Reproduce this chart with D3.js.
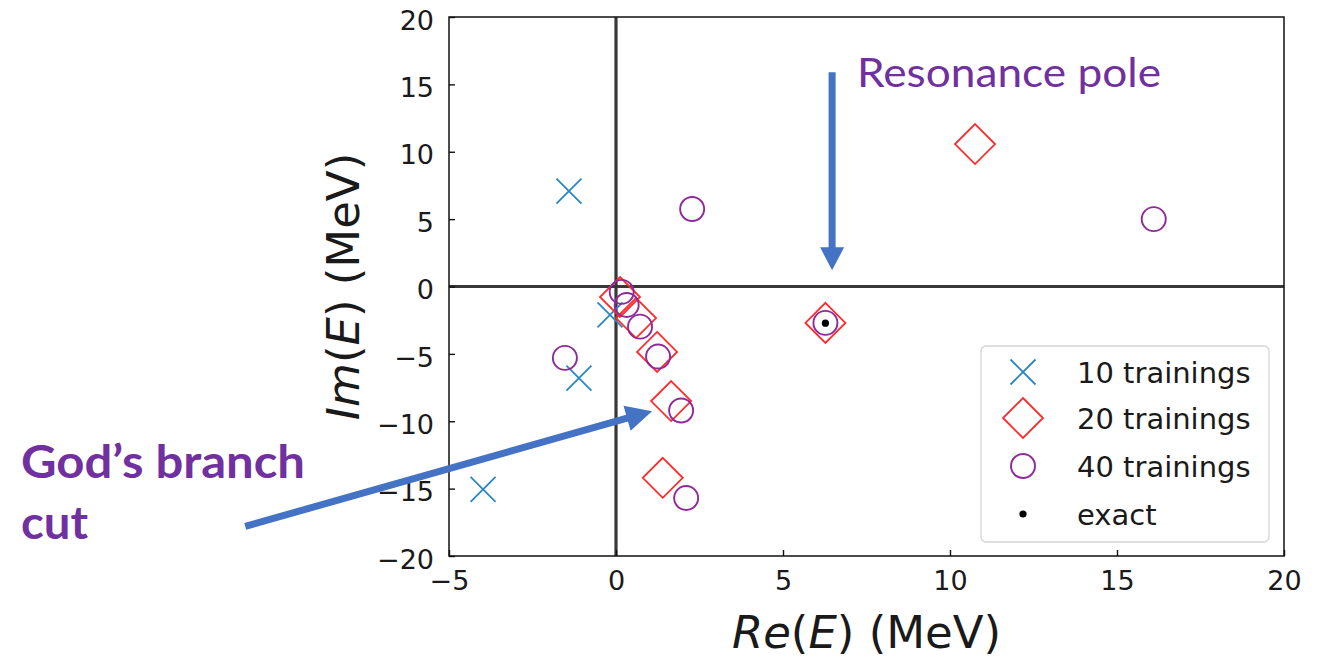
<!DOCTYPE html>
<html>
<head>
<meta charset="utf-8">
<script src="https://cdn.jsdelivr.net/npm/d3@7"></script>
<style>
  html, body { margin: 0; padding: 0; background: #fff; }
  svg { display: block; }
</style>
</head>
<body>
<svg id="chart" width="1319" height="658"></svg>
<script>
// ---- data ----
const re10 = [-1.41, -0.18, -1.11, -3.98];
const im10 = [7.08, -2.1, -6.8, -15.05];
const re20 = [0.12, 0.6, 1.23, 1.65, 1.4, 6.27, 10.75];
const im20 = [-0.78, -2.34, -4.86, -8.5, -14.2, -2.7, 10.57];
const re40 = [0.17, 0.32, 0.72, 1.26, 1.95, 2.1, -1.53, 2.28, 16.1, 6.27];
const im40 = [-0.4, -1.37, -2.98, -5.2, -9.2, -15.7, -5.3, 5.75, 5.0, -2.7];
const reExact = [6.27];
const imExact = [-2.72];
const xTicks = [-5, 0, 5, 10, 15, 20];
const yTicks = [-20, -15, -10, -5, 0, 5, 10, 15, 20];
const legendLabels = ["10 trainings", "20 trainings", "40 trainings", "exact"];
// annotation arrows in data coordinates [x1, y1, x2(tip), y2(tip)]
const arrowResonance = [6.47, 15.9, 6.47, 1.2];
const arrowBranch = [-11.1, -17.8, 1.08, -9.25];

const svg = d3.select("#chart");
const x = d3.scaleLinear().domain([-5, 20]).range([449, 1284]);
const y = d3.scaleLinear().domain([-20, 20]).range([556, 17]);

const cBlue = "#2a86c4", cRed = "#ff2a2a", cPurple = "#8e2a99";

// zero lines
svg.append("line").attr("x1", x(0)).attr("x2", x(0)).attr("y1", y(20)).attr("y2", y(-20))
  .attr("stroke", "#383838").attr("stroke-width", 3.2);
svg.append("line").attr("x1", x(-5)).attr("x2", x(20)).attr("y1", y(0)).attr("y2", y(0))
  .attr("stroke", "#383838").attr("stroke-width", 3.2);

// axes
const fmt = d => d < 0 ? "\u2212" + Math.abs(d) : d;
const gx = svg.append("g").attr("transform", `translate(0,${y(-20)})`)
  .call(d3.axisBottom(x).tickValues(xTicks).tickSize(-6).tickPadding(15).tickFormat(fmt));
const gy = svg.append("g").attr("transform", `translate(${x(-5)},0)`)
  .call(d3.axisLeft(y).tickValues(yTicks).tickSize(-6).tickPadding(15).tickFormat(fmt));
[gx, gy].forEach(g => {
  g.select(".domain").remove();
  g.selectAll(".tick line").attr("stroke", "#111").attr("stroke-width", 1.4);
  g.selectAll(".tick text").attr("fill", "#1a1a1a").style("font-family", "DejaVu Sans").style("font-size", "27px");
});
gy.selectAll(".tick text").attr("dy", "0.45em");

// frame
svg.append("rect").attr("x", x(-5)).attr("y", y(20)).attr("width", x(20) - x(-5)).attr("height", y(-20) - y(20))
  .attr("fill", "none").attr("stroke", "#111").attr("stroke-width", 1.5);

// marker helpers
function xMark(g, cx, cy, col, s) {
  g.append("path").attr("d", `M${cx - s},${cy - s}L${cx + s},${cy + s}M${cx - s},${cy + s}L${cx + s},${cy - s}`)
    .attr("stroke", col).attr("stroke-width", 1.8).attr("fill", "none");
}
function dMark(g, cx, cy, col, s) {
  g.append("path").attr("d", `M${cx},${cy - s}L${cx + s},${cy}L${cx},${cy + s}L${cx - s},${cy}Z`)
    .attr("stroke", col).attr("stroke-width", 1.8).attr("fill", "none");
}
function oMark(g, cx, cy, col, r) {
  g.append("circle").attr("cx", cx).attr("cy", cy).attr("r", r)
    .attr("stroke", col).attr("stroke-width", 1.9).attr("fill", "none");
}
function dot(g, cx, cy) {
  g.append("circle").attr("cx", cx).attr("cy", cy).attr("r", 3.6).attr("fill", "#000");
}

const pts = svg.append("g");
re10.forEach((v, i) => xMark(pts, x(v), y(im10[i]), cBlue, 12.5));
re20.forEach((v, i) => dMark(pts, x(v), y(im20[i]), cRed, 20));
re40.forEach((v, i) => oMark(pts, x(v), y(im40[i]), cPurple, 12));
reExact.forEach((v, i) => dot(pts, x(v), y(imExact[i])));

// legend
const lg = svg.append("g");
lg.append("rect").attr("x", 981).attr("y", 346).attr("width", 288).attr("height", 196).attr("rx", 5)
  .attr("fill", "#fff").attr("fill-opacity", 0.85).attr("stroke", "#d4d4d4").attr("stroke-width", 1.3);
const rowsY = [372, 418, 466, 514];
xMark(lg, 1023, rowsY[0], cBlue, 12.5);
dMark(lg, 1023, rowsY[1], cRed, 20);
oMark(lg, 1023, rowsY[2], cPurple, 12);
dot(lg, 1023, rowsY[3]);
legendLabels.forEach((t, i) => {
  lg.append("text").attr("x", 1077).attr("y", rowsY[i] + 11)
    .style("font-family", "DejaVu Sans").style("font-size", "29px").attr("fill", "#1a1a1a").text(t);
});

// axis titles
const xt = svg.append("text").attr("x", x(7.5)).attr("y", 648)
  .attr("text-anchor", "middle").style("font-family", "DejaVu Sans").style("font-size", "45px").attr("fill", "#1a1a1a");
xt.append("tspan").style("font-style", "italic").text("Re");
xt.append("tspan").text("(");
xt.append("tspan").style("font-style", "italic").text("E");
xt.append("tspan").text(") (MeV)");
const yt = svg.append("text").attr("transform", `translate(359,${y(0)}) rotate(-90)`)
  .attr("text-anchor", "middle").style("font-family", "DejaVu Sans").style("font-size", "45px").attr("fill", "#1a1a1a");
yt.append("tspan").style("font-style", "italic").text("Im");
yt.append("tspan").text("(");
yt.append("tspan").style("font-style", "italic").text("E");
yt.append("tspan").text(") (MeV)");

// annotation arrows
function arrow(a, shaftW, headL, headW, col) {
  const x1 = x(a[0]), y1 = y(a[1]), x2 = x(a[2]), y2 = y(a[3]);
  const dx = x2 - x1, dy = y2 - y1, L = Math.hypot(dx, dy);
  const ux = dx / L, uy = dy / L, nx = -uy, ny = ux;
  const bx = x2 - ux * headL, by = y2 - uy * headL;
  const p = [
    [x1 + nx * shaftW / 2, y1 + ny * shaftW / 2],
    [bx + nx * shaftW / 2, by + ny * shaftW / 2],
    [bx + nx * headW, by + ny * headW],
    [x2, y2],
    [bx - nx * headW, by - ny * headW],
    [bx - nx * shaftW / 2, by - ny * shaftW / 2],
    [x1 - nx * shaftW / 2, y1 - ny * shaftW / 2]
  ];
  svg.append("path").attr("d", "M" + p.map(q => q.join(",")).join("L") + "Z").attr("fill", col);
}
arrow(arrowResonance, 7, 23, 12, "#4472C4");
arrow(arrowBranch, 7, 26, 13, "#4472C4");

// annotation texts
svg.append("text").attr("x", 857).attr("y", 87).attr("textLength", 304).attr("lengthAdjust", "spacingAndGlyphs")
  .style("font-family", "Lato").style("font-size", "40px").attr("fill", "#7030A0").text("Resonance pole");
svg.append("text").attr("x", 21).attr("y", 478).attr("textLength", 284).attr("lengthAdjust", "spacingAndGlyphs")
  .style("font-family", "Lato").style("font-weight", "bold").style("font-size", "46px").attr("fill", "#7030A0").text("God\u2019s branch");
svg.append("text").attr("x", 21).attr("y", 539).attr("textLength", 67).attr("lengthAdjust", "spacingAndGlyphs")
  .style("font-family", "Lato").style("font-weight", "bold").style("font-size", "46px").attr("fill", "#7030A0").text("cut");
</script>
</body>
</html>
